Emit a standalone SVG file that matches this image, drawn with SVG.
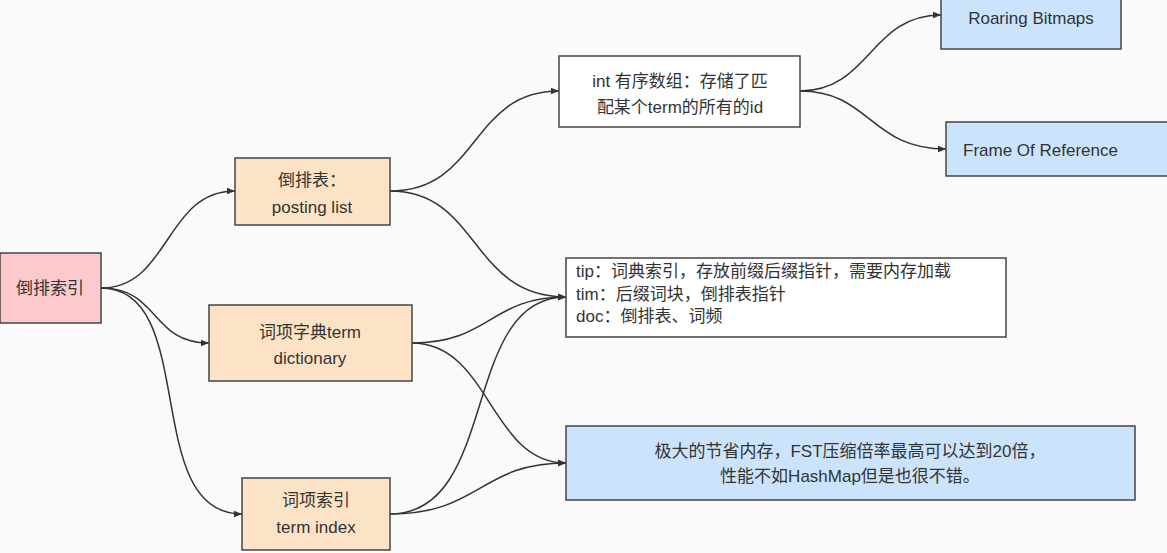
<svg xmlns="http://www.w3.org/2000/svg" width="1167" height="553" viewBox="0 0 1167 553">
<defs>
<marker id="ah" viewBox="0 0 10 10" refX="10" refY="5" markerWidth="8" markerHeight="8" markerUnits="userSpaceOnUse" orient="auto"><path d="M0,1 L10,5 L0,9 z" fill="#333"/></marker>
</defs>
<style>
text{font-family:"Liberation Sans","Noto Sans CJK SC",sans-serif;fill:#333;font-size:17px}
.n{stroke:#444;stroke-width:1.5}
.o{fill:#fde3c5}.p{fill:#fcc9cc}.b{fill:#cce4fb}.w{fill:#fff}
#edges path{fill:none;stroke:#333;stroke-width:1.5;marker-end:url(#ah)}
</style>
<rect width="1167" height="553" fill="#fafafa"/>
<g id="edges">
<path d="M101,288 C170,288 165,191 235,191"/>
<path d="M101,288 C160,288 150,343 209,343"/>
<path d="M101,288 C200,288 140,514 242,514"/>
<path d="M390,191 C480,191 470,91 559,91"/>
<path d="M390,191 C480,191 470,297 566,297"/>
<path d="M412,343 C490,343 490,297 566,297"/>
<path d="M412,343 C490,343 490,463 566,463"/>
<path d="M390,514 C500,514 460,297 566,297"/>
<path d="M390,514 C480,514 480,463 566,463"/>
<path d="M800,91 C870,91 870,15 941,15"/>
<path d="M800,91 C870,91 870,149 946,149"/>
</g>
<g id="root"><rect class="n p" x="0" y="253" width="101" height="70"/><text x="50" y="294" text-anchor="middle" font-size="15">倒排索引</text></g>
<g id="posting"><rect class="n o" x="235" y="158" width="155" height="67"/><text x="312" y="186" text-anchor="middle">倒排表：</text><text x="312" y="213" text-anchor="middle">posting list</text></g>
<g id="dict"><rect class="n o" x="209" y="305" width="203" height="76"/><text x="310" y="338" text-anchor="middle" font-size="18">词项字典term</text><text x="310" y="364" text-anchor="middle" font-size="18">dictionary</text></g>
<g id="index"><rect class="n o" x="242" y="478" width="148" height="72"/><text x="316" y="506" text-anchor="middle" font-size="18">词项索引</text><text x="316" y="533" text-anchor="middle" font-size="18">term index</text></g>
<g id="intarr"><rect class="n w" x="559" y="56" width="241" height="71"/><text x="680" y="87" text-anchor="middle" font-size="16">int 有序数组：存储了匹</text><text x="680" y="113" text-anchor="middle" font-size="16">配某个term的所有的id</text></g>
<g id="roaring"><rect class="n b" x="941" y="-10" width="180" height="59"/><text x="1031" y="24" text-anchor="middle">Roaring Bitmaps</text></g>
<g id="frame"><rect class="n b" x="946" y="122" width="230" height="54"/><text x="963" y="156" font-size="18">Frame Of Reference</text></g>
<g id="files"><rect class="n w" x="566" y="258" width="440" height="79"/><text x="576" y="277" font-size="14">tip：词典索引，存放前缀后缀指针，需要内存加载</text><text x="576" y="300" font-size="14">tim：后缀词块，倒排表指针</text><text x="576" y="322" font-size="14">doc：倒排表、词频</text></g>
<g id="fst"><rect class="n b" x="566" y="426" width="569" height="74"/><text x="850" y="457" text-anchor="middle">极大的节省内存，FST压缩倍率最高可以达到20倍，</text><text x="850" y="482" text-anchor="middle">性能不如HashMap但是也很不错。</text></g>
</svg>
